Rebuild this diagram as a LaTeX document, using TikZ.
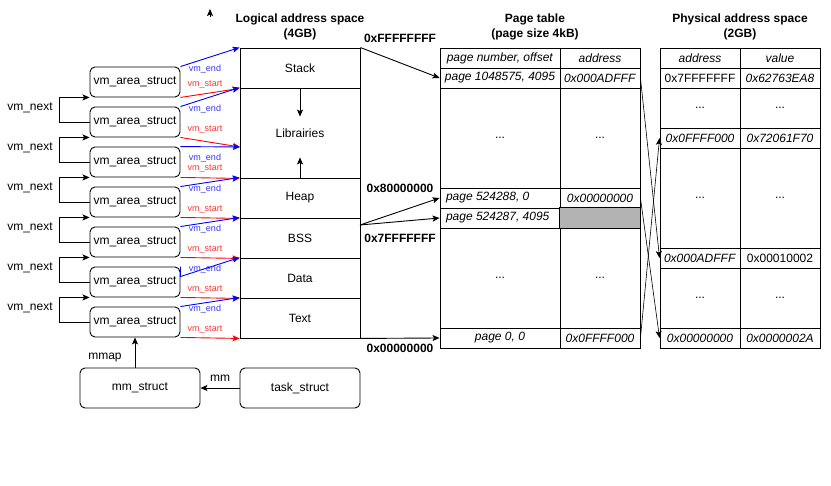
\documentclass[tikz,border=0pt]{standalone}
\usepackage{fontspec}
\setmainfont{Liberation Sans}
\usetikzlibrary{arrows.meta,calc}
\definecolor{endline}{HTML}{0000FF}
\definecolor{startline}{HTML}{FF0000}
\definecolor{endtext}{HTML}{3333FF}
\definecolor{starttext}{HTML}{FF3333}
\definecolor{unused}{HTML}{B3B3B3}

\tikzset{
  vmbox/.style={draw, rounded corners=5pt, minimum width=90pt, minimum height=30pt, inner sep=0pt, font=\fontsize{12}{14}\selectfont},
  seg/.style={draw, minimum width=120pt, inner sep=0pt, font=\fontsize{12}{14}\selectfont},
  cell/.style={draw, inner sep=0pt, font=\fontsize{12}{14}\selectfont},
  title/.style={align=center, inner sep=0pt, font=\bfseries\fontsize{12}{15}\selectfont},
  addr/.style={inner sep=0pt, font=\bfseries\fontsize{12}{14}\selectfont},
  lbl/.style={inner sep=0pt, font=\fontsize{12}{14}\selectfont},
  small/.style={inner sep=0pt, font=\fontsize{9}{10}\selectfont},
}

\begin{document}
\begin{tikzpicture}[x=1pt, y=-1pt, line width=0.9pt, >={Stealth[length=7pt,width=6pt,inset=1.5pt]}]
  \useasboundingbox (0,0) rectangle (831,486);

  % Titles:
  \node[title] (tlog) at (300,27) {Logical address space\\(4GB)};
  \node[title] (tpt) at (535,27) {Page table\\(page size 4kB)};
  \node[title] (tph) at (740,27) {Physical address space\\(2GB)};
  \coordinate (stray) at (210,17);
  \draw[->] (stray) -- ++(0,-8);

  % Logical address space:
  \node[seg, minimum height=40pt] (sstack) at (300,68) {Stack};
  \node[seg, minimum height=90pt] (slib) at (300,133) {Librairies};
  \node[seg, minimum height=40pt] (sheap) at (300,198) {Heap};
  \node[seg, minimum height=40pt] (sbss) at (300,238) {BSS};
  \node[seg, minimum height=40pt] (sdata) at (300,278) {Data};
  \node[seg, minimum height=40pt] (stext) at (300,318) {Text};
  \draw[->] (slib.north) -- ++(0,29);
  \draw[->] (slib.south) -- ++(0,-21);
  \coordinate (mmb) at (240,147);
  \coordinate (split) at (360,225);

  \node[addr] (aff) at (400,38) {0xFFFFFFFF};
  \node[addr] (a80) at (400,188) {0x80000000};
  \node[addr] (a7f) at (400,238) {0x7FFFFFFF};
  \node[addr] (a00) at (400,348) {0x00000000};

  % Page table:
  \foreach \i/\yc/\h/\txt/\adr in {
      1/58/20/{\textit{page number, offset}}/{\textit{address}},
      2/78/20/{\textit{page 1048575, 4095}}/{\textit{0x000ADFFF}},
      3/138/100/{...}/{...},
      4/198/20/{\makebox[108pt][l]{\textit{page 524288, 0}}}/{\textit{0x00000000}},
      5/218/20/{\makebox[108pt][l]{\textit{page 524287, 4095}}}/{},
      6/278/100/{...}/{...},
      7/338/20/{\textit{page 0, 0}}/{\textit{0x0FFFF000}}}
  {
    \node[cell, minimum width=120pt, minimum height=\h pt] (pn\i) at (500,\yc) {\txt};
    \node[cell, minimum width=80pt, minimum height=\h pt] (pa\i) at (600,\yc) {\adr};
  }
  \fill[unused] (pa5.north west) rectangle (pa5.south east);
  \draw (pa5.north west) rectangle (pa5.south east);

  % Physical address space:
  \foreach \i/\yc/\h/\adr/\val in {
      1/58/20/{\textit{address}}/{\textit{value}},
      2/78/20/{0x7FFFFFFF}/{\textit{0x62763EA8}},
      3/108/40/{...}/{...},
      4/138/20/{\textit{0x0FFFF000}}/{\textit{0x72061F70}},
      5/198/100/{...}/{...},
      6/258/20/{\textit{0x000ADFFF}}/{0x00010002},
      7/298/60/{...}/{...},
      8/338/20/{\textit{0x00000000}}/{\textit{0x0000002A}}}
  {
    \node[cell, minimum width=80pt, minimum height=\h pt] (pha\i) at (700,\yc) {\adr};
    \node[cell, minimum width=80pt, minimum height=\h pt] (phv\i) at (780,\yc) {\val};
  }

  % Logical to page table:
  \draw[->] (sstack.north east) -- (pn2.west);
  \draw[->] (split) -- (pn4.west);
  \draw[->] (split) -- (pn5.west);
  \draw[->] (stext.south east) -- (pn7.west);

  % Page table to physical:
  \draw[->, line width=0.6pt] (pa2.east) -- (pha6.west);
  \draw[->, line width=0.6pt] (pa4.east) -- (pha8.west);
  \draw[->, line width=0.6pt] (pa7.east) -- (pha4.west);

  % vm_area_struct list:
  \foreach \i in {1,...,7}
    \node[vmbox] (v\i) at (135,{42+40*\i}) {vm\_area\_struct};
  \foreach \i [evaluate=\i as \j using int(\i+1)] in {1,...,6} {
    \draw[->] (v\j.west) -- ++(-30,0) |- (v\i.south west);
    \node[lbl] (n\i) at (30,{68+40*\i}) {vm\_next};
  }

  % vm_start / vm_end:
  \foreach \i/\s in {1/sstack.south west, 2/mmb, 3/slib.south west, 4/sheap.south west,
                     5/sbss.south west, 6/sdata.south west, 7/stext.south west}
    \draw[->, startline] (v\i.south east) -- (\s);
  \foreach \i/\e in {1/sstack.north west, 2/slib.north west, 3/mmb, 4/sheap.north west,
                     5/sbss.north west, 7/stext.north west}
    \draw[->, endline] (v\i.north east) -- (\e);
  \draw[->, endline] (v6.north east) -- ++(0,10) -- (sdata.north west);
  \foreach \i/\ye/\ys in {1/69/84, 2/109/129, 3/158/168, 4/189/209, 5/229/249, 6/269/289, 7/309/329} {
    \node[small, text=endtext] (le\i) at (205,\ye) {vm\_end};
    \node[small, text=starttext] (ls\i) at (205,\ys) {vm\_start};
  }

  % mm_struct and task_struct:
  \node[vmbox, minimum width=120pt, minimum height=40pt] (mm) at (140,388) {mm\_struct};
  \node[vmbox, minimum width=120pt, minimum height=40pt] (task) at (300,388) {task\_struct};
  \draw[->] (task.west) -- (mm.east);
  \node[lbl] (lmm) at (220,378) {mm};
  \draw[->] (v7.south |- mm.north) -- (v7.south);
  \node[lbl] (lmmap) at (105,358) {mmap};
\end{tikzpicture}
\end{document}
